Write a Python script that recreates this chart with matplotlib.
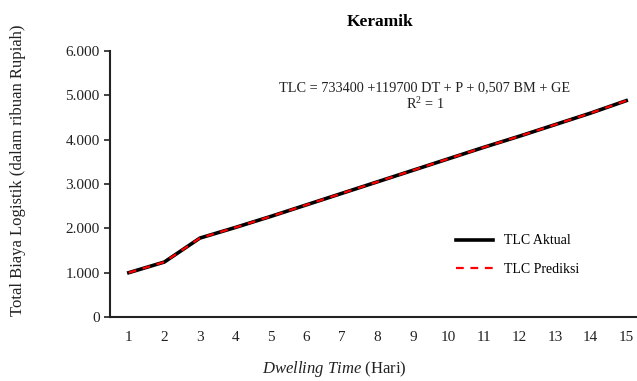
import matplotlib
matplotlib.use("Agg")
import matplotlib.pyplot as plt
from matplotlib.ticker import FuncFormatter

plt.rcParams["font.family"] = ["Liberation Serif", "DejaVu Serif"]
plt.rcParams["mathtext.fontset"] = "custom"
plt.rcParams["mathtext.rm"] = "Liberation Serif"
plt.rcParams["mathtext.it"] = "Liberation Serif:italic"

days = list(range(1, 16))
tlc_actual = [1000, 1240, 1780, 2020, 2270, 2530, 2790, 3050, 3310, 3570, 3830, 4080, 4340, 4600, 4880]
tlc_predicted = [1000, 1240, 1780, 2020, 2270, 2530, 2790, 3050, 3310, 3570, 3830, 4080, 4340, 4600, 4880]
y_ticks = [0, 1000, 2000, 3000, 4000, 5000, 6000]


def thousands(value, _pos):
    return f"{int(value):,}".replace(",", ".")


def main() -> None:
    fig = plt.figure(figsize=(6.37, 3.81), dpi=100)
    # axes right edge runs past the figure, as in the cropped original
    ax = fig.add_axes([110 / 637, 64 / 381, 534 / 637, 266 / 381])

    ax.plot(days, tlc_actual, color="black", lw=2.6, label="TLC Aktual", solid_joinstyle="round")
    ax.plot(days, tlc_predicted, color="#ff0000", lw=1.6, ls=(0, (3.5, 3)), label="TLC Prediksi")

    ax.set_xlim(0.47, 15.5)
    ax.set_ylim(0, 6000)
    ax.set_xticks(days)
    ax.set_yticks(y_ticks)
    ax.yaxis.set_major_formatter(FuncFormatter(thousands))
    ax.tick_params(axis="x", length=0, pad=10, labelsize=11, colors="#222222")
    ax.tick_params(axis="y", length=4, width=1.2, labelsize=11, colors="#222222")

    for side in ["top", "right"]:
        ax.spines[side].set_visible(False)
    for side in ["left", "bottom"]:
        ax.spines[side].set_linewidth(1.5)
        ax.spines[side].set_color("#222222")

    fig.text(380 / 637, 1 - 22 / 381, "Keramik", ha="center", va="center",
             fontsize=12.5, fontweight="bold")
    fig.text(425 / 637, 1 - 88 / 381, "TLC = 733400 +119700 DT + P + 0,507 BM + GE",
             ha="center", va="center", fontsize=10.3, color="#222222")
    fig.text(425 / 637, 1 - 104 / 381, "R$^{2}$ = 1", ha="center", va="center",
             fontsize=10.3, color="#222222")

    ax.legend(loc="upper left", bbox_to_anchor=(443 / 637, 1 - 222 / 381),
              bbox_transform=fig.transFigure, frameon=False, fontsize=10,
              handlelength=2.7, labelspacing=1.1, handletextpad=0.8)

    fig.text(18 / 637, 1 - 170 / 381, "Total Biaya Logistik (dalam ribuan Rupiah)",
             rotation=90, ha="center", va="center", fontsize=12, color="#222222")
    fig.text(334 / 637, 1 - 369 / 381, r"$\it{Dwelling\ Time}$ (Hari)", ha="center",
             va="center", fontsize=12, color="#222222")

    fig.savefig("out.png", dpi=100)
    plt.close(fig)


if __name__ == "__main__":
    main()
